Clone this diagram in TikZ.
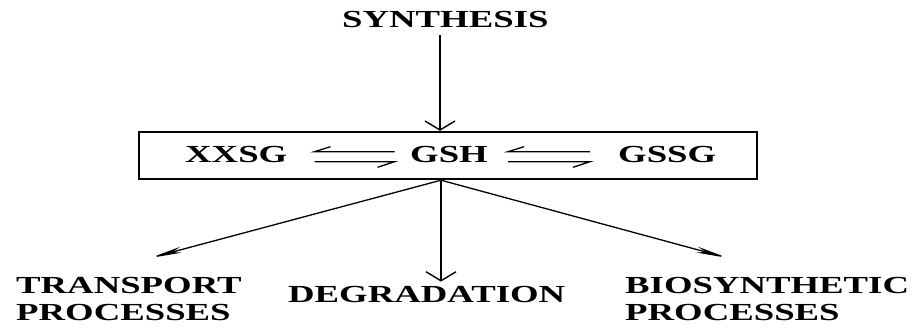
\documentclass[tikz,border=0pt]{standalone}
\usepackage{fontspec}
\setmainfont{Liberation Serif}
\usetikzlibrary{arrows.meta,calc}
\newcommand\wide[1]{\scalebox{1.5}[1]{#1}}
\tikzset{
  lbl/.style={inner sep=0pt, font=\bfseries\fontsize{24.5}{27.5}\selectfont},
  boxst/.style={draw, line width=2.4pt, inner sep=0pt, minimum width=618pt, minimum height=47pt},
  thick arrow/.style={line width=2.4pt, -{Straight Barb[length=9pt,width=30pt,line width=1.4pt]}},
  thin arrow/.style={line width=1.3pt, -{Stealth[length=32pt,width=6pt,inset=9pt]}},
  harp/.style={line width=1.3pt}
}
\begin{document}
\begin{tikzpicture}[x=1pt,y=-1pt]
\useasboundingbox (0,0) rectangle (913,327);
% labels
\node[lbl, anchor=base west] (synth) at (342,27) {\wide{SYNTHESIS}};
\node[lbl, anchor=base west] (xxsg) at (185,162) {\wide{XXSG}};
\node[lbl, anchor=base west] (gsh) at (410,162) {\wide{GSH}};
\node[lbl, anchor=base west] (gssg) at (618,162) {\wide{GSSG}};
\node[lbl, anchor=north west, align=left] (trans) at (16,277) {\wide{TRANSPORT}\\\wide{PROCESSES}};
\node[lbl, anchor=base west] (degr) at (288,302) {\wide{DEGRADATION}};
\node[lbl, anchor=north west, align=left] (bios) at (625,277) {\wide{BIOSYNTHETIC}\\\wide{PROCESSES}};
\node[boxst] (box) at (448,155.5) {};
% equilibrium harpoons
\draw[harp] ($(xxsg.base east)+(27,-10.3)$) ++(16,-5) -- ++(-16,5) -- ++(80,0);
\draw[harp] ($(xxsg.base east)+(27,-0.3)$) -- ++(80,0) -- ++(-17,5.6);
\draw[harp] ($(gsh.base east)+(20,-10.3)$) ++(16,-5) -- ++(-16,5) -- ++(82,0);
\draw[harp] ($(gsh.base east)+(20,-0.3)$) -- ++(82,0) -- ++(-17,5.6);
% connectors
\coordinate (tp) at ($(box.north)+(-8,0)$);
\coordinate (bp) at ($(box.south)+(-7,0)$);
\draw[thick arrow] ($(tp |- synth.base)+(0,8)$) -- (tp);
\draw[thick arrow] (bp) -- ($(bp |- degr.north)+(0,-4)$);
\draw[thin arrow] (bp) -- ($(trans.north west)+(134,-19)$);
\draw[thin arrow] (bp) -- ($(bios.north west)+(103,-19)$);
\end{tikzpicture}
\end{document}
